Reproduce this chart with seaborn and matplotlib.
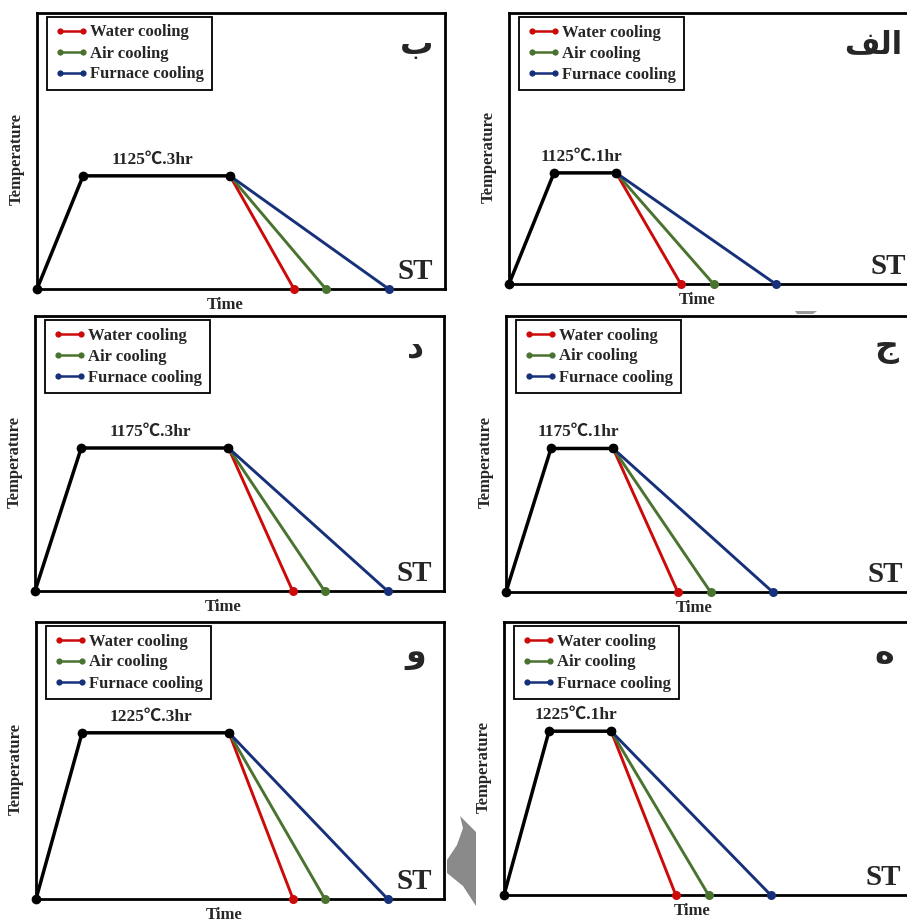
import matplotlib
matplotlib.use("Agg")
import matplotlib.pyplot as plt
from matplotlib.lines import Line2D
from matplotlib.patches import Polygon
import pandas as pd
import seaborn as sns

# Schematic heat-treatment cycles: time axis runs 0..10 units per panel,
# temperature axis 0..1 (0 = room temperature, "ST").
soak_labels = ["1hr", "3hr"]
heat_times = {"1hr": [0.0, 1.10, 2.62], "3hr": [0.0, 1.13, 4.73]}      # start, end of heating, end of soaking
cool_end_times = {"1hr": [4.20, 5.00, 6.52], "3hr": [6.30, 7.08, 8.62]}  # water, air, furnace
soak_temps = ["1125", "1175", "1225"]
soak_levels = [0.41, 0.52, 0.60]
cooling_names = ["Water cooling", "Air cooling", "Furnace cooling"]
cooling_colors = ["#CC0A0A", "#4B7330", "#16307A"]
panel_letters = {"3hr": ["ب", "د", "و"], "1hr": ["الف", "ج", "ه"]}
# joined (presentation) forms, laid out left to right, for multi-letter labels
shaped = {"الف": "\ufed2\ufedf\ufe8d"}

W, H = 907, 922
# panel frames in pixels: (left, top, right, bottom)
frames = {
    "3hr": [(37, 13, 445, 289), (35, 316, 444, 591), (36, 622, 444, 899)],
    "1hr": [(509, 13, 918, 284), (506, 316, 915, 592), (504, 622, 913, 895)],
}

sns.set_style("white")
plt.rcParams["font.family"] = ["Liberation Serif", "Noto Sans CJK SC", "DejaVu Sans"]
plt.rcParams["font.weight"] = "bold"

fig = plt.figure(figsize=(W / 100, H / 100), dpi=100)
fig.patch.set_facecolor("white")

serif = ["Liberation Serif", "Noto Sans CJK SC"]

for soak in soak_labels:
    for row in range(3):
        x0, y0, x1, y1 = frames[soak][row]
        ax = fig.add_axes([x0 / W, 1 - y1 / H, (x1 - x0) / W, (y1 - y0) / H])
        level = soak_levels[row]
        t = heat_times[soak]

        heat = pd.DataFrame({"time": t, "temp": [0.0, level, level], "path": "heat"})
        rows = []
        for name, end in zip(cooling_names, cool_end_times[soak]):
            rows.append({"time": t[2], "temp": level, "path": name})
            rows.append({"time": end, "temp": 0.0, "path": name})
        cool = pd.DataFrame(rows)

        sns.lineplot(data=cool, x="time", y="temp", hue="path",
                     palette=dict(zip(cooling_names, cooling_colors)),
                     sort=False, estimator=None, legend=False, ax=ax,
                     linewidth=2.1, marker="o", markersize=6.5,
                     markeredgewidth=0, clip_on=False, zorder=3)
        sns.lineplot(data=heat, x="time", y="temp", color="black",
                     sort=False, estimator=None, legend=False, ax=ax,
                     linewidth=2.5, marker="o", markersize=7,
                     markeredgewidth=0, clip_on=False, zorder=4)

        ax.set_xlim(0, 10)
        ax.set_ylim(0, 1)
        ax.set_xticks([])
        ax.set_yticks([])
        ax.set_xlabel("")
        ax.set_ylabel("")
        for sp in ax.spines.values():
            sp.set_visible(True)
            sp.set_color("black")
            sp.set_linewidth(2.0)

        wpx, hpx = x1 - x0, y1 - y0
        # soaking label above the plateau
        ax.annotate(f"{soak_temps[row]}℃.{soak[0]}hr", xy=((t[1] + t[2]) / 2, level),
                    xytext=(-3, 6), textcoords="offset points", ha="center", va="bottom",
                    fontsize=12.5, fontweight="bold", family=serif)
        ax.text(1 - 12 / wpx, 10 / hpx, "ST", transform=ax.transAxes, ha="right",
                va="baseline", fontsize=21, fontweight="bold", family=serif)
        ax.text(-20 / wpx, 0.47, "Temperature", transform=ax.transAxes, rotation=90,
                ha="center", va="center", fontsize=12, fontweight="bold", family=serif)
        ax.text(0.46, -16 / hpx, "Time", transform=ax.transAxes, ha="center",
                va="center", fontsize=12, fontweight="bold", family=serif)

        letter = panel_letters[soak][row]
        if len(letter) > 1:
            ax.text(1 - 16 / wpx, 0.885, shaped.get(letter, letter), transform=ax.transAxes,
                    ha="right", va="center", fontsize=22, fontweight="bold",
                    family="DejaVu Sans")
        else:
            ax.text(0.93, 0.885, letter, transform=ax.transAxes,
                    ha="center", va="center", fontsize=24, fontweight="bold",
                    family="DejaVu Sans")

        handles = [Line2D([], [], color=c, lw=1.8, marker="o", ms=4.5, mew=0)
                   for c in cooling_colors]
        leg = ax.legend(handles, cooling_names, loc="upper left",
                        bbox_to_anchor=(10 / wpx, 1 - 4 / hpx), frameon=True,
                        fancybox=False, edgecolor="black", framealpha=1,
                        prop=dict(family=serif, weight="bold", size=12),
                        handlelength=2.0, handletextpad=0.15, labelspacing=0.3,
                        borderpad=0.45, borderaxespad=0, numpoints=2)
        leg.get_frame().set_linewidth(1.3)


def px_poly(points, color):
    xy = [(x / W, 1 - y / H) for x, y in points]
    fig.add_artist(Polygon(xy, closed=True, facecolor=color, edgecolor="none",
                           transform=fig.transFigure, zorder=10))


# grey scan marks on the page
px_poly([(460, 816), (476, 832), (476, 906), (463, 886), (447, 873),
         (447, 860), (457, 845), (463, 828)], "#8a8a8a")
px_poly([(795, 311), (817, 311), (813, 314), (797, 314)], "#9a9a9a")

fig.savefig("out.png", dpi=100, facecolor="white")
